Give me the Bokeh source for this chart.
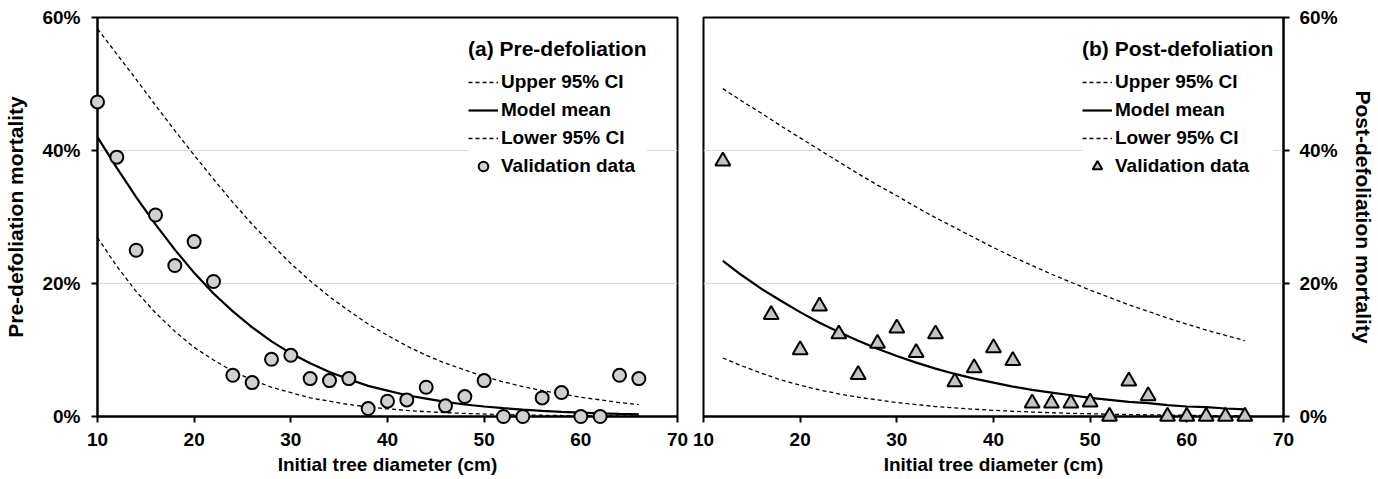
from bokeh.plotting import figure
from bokeh.layouts import row
from bokeh.models import Range1d, FixedTicker, PrintfTickFormatter, Legend, LegendItem
from bokeh.embed import file_html
from bokeh.resources import INLINE

FONT = "Liberation Sans"

# ---------------- Panel (a) Pre-defoliation ----------------
curve_x_a = [10, 12, 14, 16, 18, 20, 22, 24, 26, 28, 30, 32, 34, 36, 38, 40,
             42, 44, 46, 48, 50, 52, 54, 56, 58, 60, 62, 64, 66]
mean_a = [42.0, 37.4, 33.0, 28.9, 25.1, 21.6, 18.5, 15.8, 13.4, 11.3, 9.5, 8.0,
          6.7, 5.6, 4.6, 3.9, 3.2, 2.7, 2.2, 1.8, 1.5, 1.25, 1.03, 0.85, 0.70,
          0.58, 0.48, 0.40, 0.33]
upper_a = [58.3, 54.5, 50.7, 46.8, 43.0, 39.3, 35.7, 32.2, 28.9, 25.9, 23.0, 20.4,
           18.0, 15.9, 13.9, 12.2, 10.6, 9.2, 8.0, 7.0, 6.0, 5.2, 4.5, 3.9, 3.4,
           2.9, 2.5, 2.1, 1.8]
lower_a = [26.9, 22.6, 18.8, 15.6, 12.8, 10.4, 8.5, 6.8, 5.5, 4.4, 3.6, 2.8, 2.3,
           1.8, 1.45, 1.15, 0.92, 0.73, 0.58, 0.46, 0.37, 0.29, 0.23, 0.19, 0.15,
           0.12, 0.09, 0.07, 0.06]
obs_x_a = [10, 12, 14, 16, 18, 20, 22, 24, 26, 28, 30, 32, 34, 36, 38, 40,
           42, 44, 46, 48, 50, 52, 54, 56, 58, 60, 62, 64, 66]
obs_y_a = [47.3, 39.0, 25.0, 30.3, 22.7, 26.3, 20.3, 6.2, 5.1, 8.6, 9.2, 5.7,
           5.4, 5.7, 1.2, 2.3, 2.5, 4.4, 1.6, 3.0, 5.4, 0.0, 0.0, 2.8, 3.6,
           0.0, 0.0, 6.2, 5.7]

# ---------------- Panel (b) Post-defoliation ----------------
curve_x_b = [12, 14, 16, 18, 20, 22, 24, 26, 28, 30, 32, 34, 36, 38, 40,
             42, 44, 46, 48, 50, 52, 54, 56, 58, 60, 62, 64, 66]
mean_b = [23.4, 21.2, 19.2, 17.4, 15.7, 14.1, 12.7, 11.4, 10.2, 9.1, 8.1, 7.2,
          6.4, 5.7, 5.1, 4.5, 4.0, 3.6, 3.2, 2.8, 2.5, 2.2, 2.0, 1.7, 1.5, 1.4,
          1.2, 1.06]
upper_b = [49.3, 47.4, 45.6, 43.7, 41.9, 40.1, 38.3, 36.5, 34.8, 33.2, 31.5, 29.9,
           28.4, 26.9, 25.4, 24.0, 22.7, 21.4, 20.2, 19.0, 17.9, 16.8, 15.8, 14.8,
           13.9, 13.0, 12.2, 11.4]
lower_b = [8.8, 7.6, 6.5, 5.5, 4.7, 4.0, 3.4, 2.9, 2.5, 2.1, 1.8, 1.5, 1.3, 1.1,
           0.93, 0.79, 0.67, 0.57, 0.48, 0.41, 0.35, 0.29, 0.25, 0.21, 0.18, 0.15,
           0.13, 0.11]
obs_x_b = [12, 17, 20, 22, 24, 26, 28, 30, 32, 34, 36, 38, 40, 42, 44, 46, 48,
           50, 52, 54, 56, 58, 60, 62, 64, 66]
obs_y_b = [38.4, 15.3, 10.0, 16.6, 12.4, 6.3, 11.0, 13.3, 9.6, 12.4, 5.2, 7.3,
           10.3, 8.4, 2.0, 2.0, 2.0, 2.15, 0.0, 5.3, 3.1, 0.0, 0.0, 0.0, 0.0, 0.0]

x_ticks = [10, 20, 30, 40, 50, 60, 70]
y_ticks = [0, 20, 40, 60]
legend_labels = ["Upper 95% CI", "Model mean", "Lower 95% CI", "Validation data"]

HEIGHT = 478


def make_panel(title, cx, mean, upper, lower, ox, oy, marker, msize, fill,
               yside, width, bl, br, ylabel, ytick_standoff, ylab_standoff, loc):
    p = figure(width=width, height=HEIGHT, x_range=Range1d(10, 70), y_range=Range1d(0, 60),
               output_backend="svg", toolbar_location=None,
               min_border_left=bl, min_border_right=br, min_border_top=17,
               min_border_bottom=HEIGHT - 416,
               y_axis_location=yside,
               x_axis_label="Initial tree diameter (cm)", y_axis_label=ylabel)
    p.background_fill_color = "white"
    p.border_fill_color = "white"
    p.outline_line_color = "black"
    p.outline_line_width = 2
    p.xgrid.visible = False
    p.ygrid.grid_line_color = "#d9d9d9"
    p.ygrid.grid_line_width = 1

    for ax in p.axis:
        ax.axis_line_width = 2
        ax.axis_line_color = "black"
        ax.major_tick_line_width = 2
        ax.major_tick_line_color = "black"
        ax.major_tick_out = 6
        ax.major_tick_in = 0
        ax.minor_tick_line_color = None
        ax.major_label_text_font = FONT
        ax.major_label_text_font_style = "bold"
        ax.major_label_text_font_size = "19px"
        ax.major_label_text_color = "black"
        ax.axis_label_text_font = FONT
        ax.axis_label_text_font_style = "bold"
        ax.axis_label_text_color = "black"

    p.xaxis.ticker = FixedTicker(ticks=x_ticks)
    p.xaxis.axis_label_text_font_size = "19px"
    p.xaxis.major_label_standoff = 10
    p.xaxis.axis_label_standoff = 5

    p.yaxis.ticker = FixedTicker(ticks=y_ticks)
    p.yaxis.formatter = PrintfTickFormatter(format="%d%%")
    p.yaxis.axis_label_text_font_size = "21px"
    p.yaxis.major_label_standoff = ytick_standoff
    p.yaxis.axis_label_standoff = ylab_standoff
    p.ygrid.ticker = FixedTicker(ticks=y_ticks)

    ru = p.line(cx, upper, line_color="black", line_width=1.3, line_dash="4 3")
    rm = p.line(cx, mean, line_color="black", line_width=2.2)
    rl = p.line(cx, lower, line_color="black", line_width=1.3, line_dash="4 3")
    rs = p.scatter(ox, oy, marker=marker, size=msize, fill_color=fill,
                   line_color="black", line_width=2, level="overlay")

    legend = Legend(
        items=[LegendItem(label=lab, renderers=[r])
               for lab, r in zip(legend_labels, [ru, rm, rl, rs])],
        title=title, location=loc,
        title_text_font=FONT, title_text_font_style="bold", title_text_font_size="21px",
        title_text_color="black", title_standoff=9,
        label_text_font=FONT, label_text_font_style="bold", label_text_font_size="19px",
        label_text_color="black",
        glyph_width=30, glyph_height=24, label_height=24, label_standoff=3,
        spacing=4, padding=8, margin=0,
        border_line_color=None, background_fill_color="white", background_fill_alpha=1.0,
    )
    p.add_layout(legend)
    return p


p1 = make_panel("(a) Pre-defoliation", curve_x_a, mean_a, upper_a, lower_a,
                obs_x_a, obs_y_a, "circle", 13, "#d0d0d0",
                "left", 690, 97, 13, "Pre-defoliation mortality", 11, 12, (371, 238))
p2 = make_panel("(b) Post-defoliation", curve_x_b, mean_b, upper_b, lower_b,
                obs_x_b, obs_y_b, "triangle", 15, "#c4c4c4",
                "right", 688, 13, 95, "Post-defoliation mortality", 10, 11, (379, 238))

layout = row(p1, p2)
open("out.html", "w").write(file_html(layout, INLINE))
